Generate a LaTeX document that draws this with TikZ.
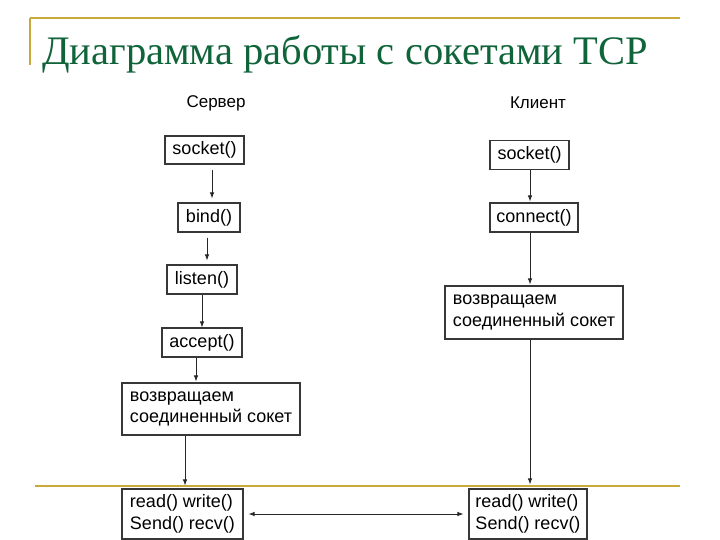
\documentclass[tikz,border=0pt]{standalone}
\usepackage{fontspec}
\setmainfont{Liberation Sans}
\newfontfamily\titlefont{Liberation Serif}
\usetikzlibrary{arrows.meta,calc}
\definecolor{titlegreen}{RGB}{16,100,58}
\definecolor{rulegold}{RGB}{200,170,60}
\definecolor{boxline}{RGB}{55,55,55}
\begin{document}
\begin{tikzpicture}[x=1pt,y=-1pt,
  box/.style={draw=boxline,line width=1.2pt,inner sep=0pt,font=\fontsize{18}{21.5}\selectfont},
  mbox/.style={box,align=left,minimum width=#1},
  arr/.style={draw=black!85,line width=0.8pt,-{Latex[length=6pt,width=4.5pt]}},
  darr/.style={draw=black!85,line width=0.8pt,{Latex[length=6pt,width=4.5pt]}-{Latex[length=6pt,width=4.5pt]}},
  rule/.style={draw=rulegold,line width=2pt},
  lbl/.style={font=\fontsize{17}{20}\selectfont}]
\useasboundingbox (0,0) rectangle (720,540);
\fill[white] (0,0) rectangle (720,540);
% frame rules
\draw[rule] (30,18) -- (680,18);
\draw[rule] (30,18) -- (30,65);
\draw[rule] (35,486) -- (680,486);
% title
\node[anchor=base west,inner sep=0pt,text=titlegreen,font=\titlefont\fontsize{40.5}{44}\selectfont] (title) at (42,65) {Диаграмма работы с сокетами TCP};
% column labels
\node[lbl] (srv) at (216,103) {Сервер};
\node[lbl] (cli) at (538,103) {Клиент};
% server nodes
\node[box,minimum width=79pt,minimum height=28pt] (s1) at (204.5,150) {socket()};
\node[box,minimum width=62pt,minimum height=29pt] (b1) at (209,217.5) {bind()};
\node[box,minimum width=70pt,minimum height=29pt] (l1) at (202,279.5) {listen()};
\node[box,minimum width=80pt,minimum height=29pt] (a1) at (202,342.5) {accept()};
\node[mbox=178pt,minimum height=52pt] (r1) at (211,409) {возвращаем\\соединенный сокет};
\node[mbox=121pt,minimum height=50pt] (rw1) at (182.5,514) {read() write()\\Send() recv()};
% client nodes
\node[box,minimum width=79pt,minimum height=29pt] (s2) at (529.5,155) {socket()};
\node[box,minimum width=88pt,minimum height=29pt] (c2) at (534,217.5) {connect()};
\node[mbox=178pt,minimum height=53pt] (r2) at (534,312.5) {возвращаем\\соединенный сокет};
\node[mbox=118pt,minimum height=50pt] (rw2) at (528,514) {read() write()\\Send() recv()};
% arrow columns
\coordinate (x1) at (212,0);
\coordinate (x2) at (207,0);
\coordinate (x3) at (202,0);
\coordinate (x4) at (196,0);
\coordinate (x5) at (185,0);
\coordinate (x6) at (530,0);
% server arrows
\draw[arr] ($(s1.south -| x1)+(0,5)$) -- ($(b1.north -| x1)+(0,-4)$);
\draw[arr] ($(b1.south -| x2)+(0,5)$) -- ($(l1.north -| x2)+(0,-4)$);
\draw[arr] (l1.south -| x3) -- (a1.north -| x3);
\draw[arr] (a1.south -| x4) -- ($(r1.north -| x4)+(0,-1)$);
\draw[arr] (r1.south -| x5) -- ($(rw1.north -| x5)+(0,-3)$);
% client arrows
\draw[arr] (s2.south -| x6) -- ($(c2.north -| x6)+(0,-1)$);
\draw[arr] (c2.south -| x6) -- ($(r2.north -| x6)+(0,-1)$);
\draw[arr] (r2.south -| x6) -- ($(rw2.north -| x6)+(0,-4)$);
% data exchange
\draw[darr] ($(rw1.east)+(5,0)$) -- ($(rw2.west)+(-5,0)$);
\end{tikzpicture}
\end{document}
